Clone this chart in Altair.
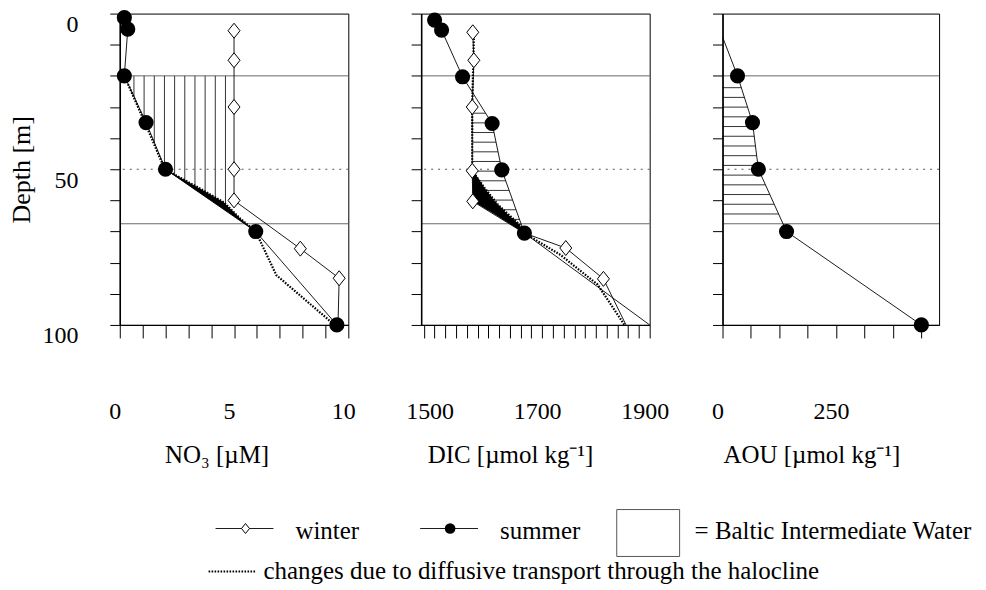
import altair as alt
import pandas as pd
import numpy as np

FONT = "Liberation Serif"

# ---------------- data ----------------
DEPTH_TICKS = list(range(0, 101, 10))
DEPTH_LABELED = [0, 50, 100]
BIW_LINES = [20, 67.5]          # solid boundaries of Baltic Intermediate Water
MID_LINE = [50]                 # dotted line

NO3_TICKS = list(range(0, 11))
NO3_LABELED = [0, 5, 10]
NO3_WINTER_DEPTH = [5.5, 15, 30, 50, 60, 75.5, 85, 100]
NO3_WINTER = [5.0, 5.0, 5.0, 5.0, 5.0, 7.9, 9.6, 9.55]
NO3_WINTER_MARK = [True, True, True, True, True, True, True, False]
NO3_SUMMER_DEPTH = [1.3, 5, 20, 35, 50, 70, 100]
NO3_SUMMER = [0.2, 0.35, 0.2, 1.15, 2.0, 5.95, 9.5]
NO3_SUMMER_MARK = [True] * 7
NO3_DIFF_DEPTH = [20, 35, 50, 56.3, 60.6, 65.9, 70, 84, 100]
NO3_DIFF = [0.2, 1.1, 1.97, 3.54, 4.55, 5.28, 5.95, 6.85, 9.4]
NO3_WEDGE_DEPTH = [50, 56.3, 60.6, 65.9, 70]
NO3_WEDGE_A = [2.0, 3.24, 4.09, 5.14, 5.95]
NO3_WEDGE_B = [2.0, 3.54, 4.55, 5.28, 5.95]

DIC_TICKS = list(range(1480, 1901, 20))
DIC_LABELED = [1500, 1700, 1900]
DIC_WINTER_DEPTH = [6, 15, 30, 50.5, 60.3, 70.5, 75.3, 85.2, 100]
DIC_WINTER = [1571, 1573, 1570, 1570, 1571, 1667, 1744, 1814, 1856]
DIC_WINTER_MARK = [True, True, True, True, True, False, True, True, False]
DIC_SUMMER_DEPTH = [2.1, 5.3, 20.3, 35.3, 50.2, 70.5, 100]
DIC_SUMMER = [1500, 1513, 1552, 1607, 1625, 1667, 1900]
DIC_SUMMER_MARK = [True, True, True, True, True, True, False]
DIC_DIFF_DEPTH = [8, 30, 50.5, 56, 61.4, 67.8, 70.5, 77.5, 87, 100]
DIC_DIFF = [1573, 1570, 1570, 1593, 1618, 1658, 1667, 1734, 1803, 1853]
DIC_WEDGE_DEPTH = [50.5, 56, 60.3, 64, 67.8, 70.5]
DIC_WEDGE_A = [1570, 1570.5, 1571, 1607, 1642, 1667]
DIC_WEDGE_B = [1572, 1593, 1612, 1633, 1658, 1667]

AOU_TICKS = [0, 62.5, 125, 187.5, 250, 312.5, 375, 437.5]
AOU_LABELED = [0, 250]
AOU_SUMMER_DEPTH = [7.5, 20, 35, 50, 70, 100]
AOU_SUMMER = [0, 33, 66, 79, 141, 438]
AOU_SUMMER_MARK = [False, True, True, True, True, True]

LEGEND_TEXT = ["winter", "summer", "= Baltic Intermediate Water",
               "changes due to diffusive transport through the halocline"]

DIAMOND = "M-0.8,0L0,-1L0.8,0L0,1Z"
PANEL_H = 312
LABEL_FS = 24
TITLE_FS = 25


def prof(depth, vals, mark=None):
    d = pd.DataFrame({"depth": depth, "v": vals})
    d["mark"] = mark if mark is not None else [True] * len(depth)
    return d


def build_panel(p):
    xs = alt.Scale(domain=p["domain"], nice=False, zero=False)
    ys = alt.Scale(domain=[0, 100], reverse=True, nice=False, zero=False)
    lab = ",".join(str(v) for v in p["labeled"])
    xaxis = alt.Axis(values=p["ticks"], format="d",
                     labelExpr=f"indexof([{lab}], datum.value) >= 0 ? datum.label : ''",
                     title=p["title"], titleX=p["title_x"], titleAlign="center",
                     tickSize=13, labelPadding=62, titlePadding=19, labelOffset=-5,
                     domainWidth=1.2, tickWidth=1, labelFlush=False, zindex=1)
    if p["show_y"]:
        ylab = ",".join(str(v) for v in DEPTH_LABELED)
        yaxis = alt.Axis(values=DEPTH_TICKS, format="d",
                         labelExpr=f"indexof([{ylab}], datum.value) >= 0 ? datum.label : ''",
                         title="Depth [m]", tickSize=10, labelPadding=32, labelOffset=11,
                         titlePadding=7, titleFontSize=26, domainWidth=1.5, tickWidth=1,
                         labelFlush=False, zindex=1)
    else:
        yaxis = alt.Axis(values=DEPTH_TICKS, labels=False, title=None, tickSize=10,
                         domainWidth=1.5, tickWidth=1, zindex=1)

    def X(f):
        return alt.X(f"{f}:Q", scale=xs, axis=xaxis)

    def Y(f):
        return alt.Y(f"{f}:Q", scale=ys, axis=yaxis)

    layers = []
    h = p["hatch"]
    if h["dir"] == "v":
        hd = pd.DataFrame({"hx": h["pos"], "top": h["a"], "bottom": h["b"]})
        layers.append(alt.Chart(hd).mark_rule(color="black", strokeWidth=0.8).encode(
            x=X("hx"), y=Y("top"), y2="bottom"))
    else:
        hd = pd.DataFrame({"hy": h["pos"], "left": h["a"], "right": h["b"]})
        layers.append(alt.Chart(hd).mark_rule(color="black", strokeWidth=0.8).encode(
            y=Y("hy"), x=X("left"), x2="right"))
    for m in p["masks"]:
        md = m["df"].copy()
        md["edge"] = m["edge"]
        layers.append(alt.Chart(md).mark_area(orient="horizontal", color="white", opacity=1).encode(
            y=Y("depth"), x=X("v"), x2="edge"))
    layers.append(alt.Chart(pd.DataFrame({"depth": BIW_LINES})).mark_rule(
        color="#444", strokeWidth=0.8).encode(y=Y("depth")))
    layers.append(alt.Chart(pd.DataFrame({"depth": MID_LINE})).mark_rule(
        color="#555", strokeWidth=1, strokeDash=[2, 5]).encode(y=Y("depth")))
    if p.get("wedge") is not None:
        layers.append(alt.Chart(p["wedge"]).mark_area(orient="horizontal", color="black", opacity=1).encode(
            y=Y("depth"), x=X("a"), x2="b"))
    for key in ["winter", "summer"]:
        if p.get(key) is not None:
            layers.append(alt.Chart(p[key]).mark_line(color="black", strokeWidth=0.9).encode(
                x=X("v"), y=Y("depth"), order="depth:Q"))
    if p.get("diff") is not None:
        layers.append(alt.Chart(p["diff"]).mark_line(color="black", strokeWidth=2.2,
                                                     strokeDash=[1.6, 1.4]).encode(
            x=X("v"), y=Y("depth"), order="depth:Q"))
    if p.get("winter") is not None:
        layers.append(alt.Chart(p["winter"]).transform_filter("datum.mark").mark_point(
            shape=DIAMOND, filled=True, fill="white", stroke="black", strokeWidth=1,
            size=225, opacity=1).encode(x=X("v"), y=Y("depth")))
    layers.append(alt.Chart(p["summer"]).transform_filter("datum.mark").mark_circle(
        color="black", size=230, opacity=1).encode(x=X("v"), y=Y("depth")))

    return alt.layer(*layers).properties(width=p["width"], height=PANEL_H)


no3_s = prof(NO3_SUMMER_DEPTH, NO3_SUMMER, NO3_SUMMER_MARK)
dic_s = prof(DIC_SUMMER_DEPTH, DIC_SUMMER, DIC_SUMMER_MARK)
dic_w = prof(DIC_WINTER_DEPTH, DIC_WINTER, DIC_WINTER_MARK)
aou_s = prof(AOU_SUMMER_DEPTH, AOU_SUMMER, AOU_SUMMER_MARK)

p1 = build_panel(dict(
    domain=[0, 10], ticks=NO3_TICKS, labeled=NO3_LABELED, title="NO₃ [µM]", title_x=97,
    width=229, show_y=True,
    winter=prof(NO3_WINTER_DEPTH, NO3_WINTER, NO3_WINTER_MARK), summer=no3_s,
    diff=prof(NO3_DIFF_DEPTH, NO3_DIFF),
    wedge=pd.DataFrame({"depth": NO3_WEDGE_DEPTH, "a": NO3_WEDGE_A, "b": NO3_WEDGE_B}),
    hatch=dict(dir="v", pos=list(np.arange(0.62, 4.7, 0.445)), a=20, b=66),
    masks=[dict(df=no3_s[(no3_s.depth >= 20) & (no3_s.depth <= 70)], edge=0.06)],
))
p2 = build_panel(dict(
    domain=[1475, 1900], ticks=DIC_TICKS, labeled=DIC_LABELED, title="DIC [µmol kg⁻¹]",
    title_x=89, width=229, show_y=False,
    winter=dic_w, summer=dic_s, diff=prof(DIC_DIFF_DEPTH, DIC_DIFF),
    wedge=pd.DataFrame({"depth": DIC_WEDGE_DEPTH, "a": DIC_WEDGE_A, "b": DIC_WEDGE_B}),
    hatch=dict(dir="h", pos=list(np.arange(32, 67.5, 3.1)), a=1571, b=1897),
    masks=[dict(df=dic_s[(dic_s.depth >= 20) & (dic_s.depth <= 71)], edge=1897),
           dict(df=dic_w[(dic_w.depth >= 60) & (dic_w.depth <= 71)], edge=1569)],
))
p3 = build_panel(dict(
    domain=[0, 477], ticks=AOU_TICKS, labeled=AOU_LABELED, title="AOU [µmol kg⁻¹]",
    title_x=89, width=217, show_y=False,
    winter=None, summer=aou_s, diff=None, wedge=None,
    hatch=dict(dir="h", pos=list(np.arange(23.8, 65, 3.12)), a=0, b=470),
    masks=[dict(df=aou_s[(aou_s.depth >= 20) & (aou_s.depth <= 70)], edge=472)],
))

top = alt.hconcat(p1, p2, p3, spacing=73, bounds="flush")

# ---------------- legend (page positions, relative to first panel / legend top) ----------------
one = pd.DataFrame({"k": [0]})
LW, LH = 860, 100
X0 = 119   # page x of the first panel's left edge
Y0 = 467   # page y of the legend block's top edge
LEG_FS = 25


def ltext(txt, x, y):
    return alt.Chart(one).mark_text(align="left", baseline="middle", font=FONT, fontSize=LEG_FS,
                                    color="black").encode(
        x=alt.value(x - X0), y=alt.value(y - Y0), text=alt.value(txt))


def lrule(x1, x2, y, dash=None, w=0.9):
    kw = dict(color="black", strokeWidth=w)
    if dash:
        kw["strokeDash"] = dash
    return alt.Chart(one).mark_rule(**kw).encode(
        x=alt.value(x1 - X0), x2=alt.value(x2 - X0), y=alt.value(y - Y0))


leg_layers = [
    lrule(215, 273, 527),
    alt.Chart(one).mark_point(shape=DIAMOND, filled=True, fill="white", stroke="black",
                              strokeWidth=1, size=100, opacity=1).encode(
        x=alt.value(245 - X0), y=alt.value(527 - Y0)),
    ltext(LEGEND_TEXT[0], 295, 529),
    lrule(420, 478, 527),
    alt.Chart(one).mark_circle(color="black", size=113, opacity=1).encode(
        x=alt.value(450 - X0), y=alt.value(527 - Y0)),
    ltext(LEGEND_TEXT[1], 500, 529),
    alt.Chart(one).mark_rect(fill="white", stroke="#555", strokeWidth=1).encode(
        x=alt.value(617 - X0), x2=alt.value(680 - X0), y=alt.value(508 - Y0), y2=alt.value(555 - Y0)),
    ltext(LEGEND_TEXT[2], 695, 529),
    lrule(208, 255, 570, dash=[1.6, 1.4], w=2),
    ltext(LEGEND_TEXT[3], 263, 570),
]
legend = alt.layer(*leg_layers).properties(width=LW, height=LH,
                                            view=alt.ViewBackground(strokeOpacity=0))

chart = alt.vconcat(top, legend, spacing=0).properties(
    padding={"left": 0, "top": 0, "right": 0, "bottom": 0}
).configure_view(stroke="black", strokeWidth=1).configure_axis(
    labelFont=FONT, titleFont=FONT, labelFontSize=LABEL_FS, titleFontSize=TITLE_FS,
    labelColor="black", titleColor="black", domainColor="black", tickColor="black",
    titleFontWeight="normal", grid=False
)

chart.save("out.html", embed_options={"renderer": "svg", "actions": False})
